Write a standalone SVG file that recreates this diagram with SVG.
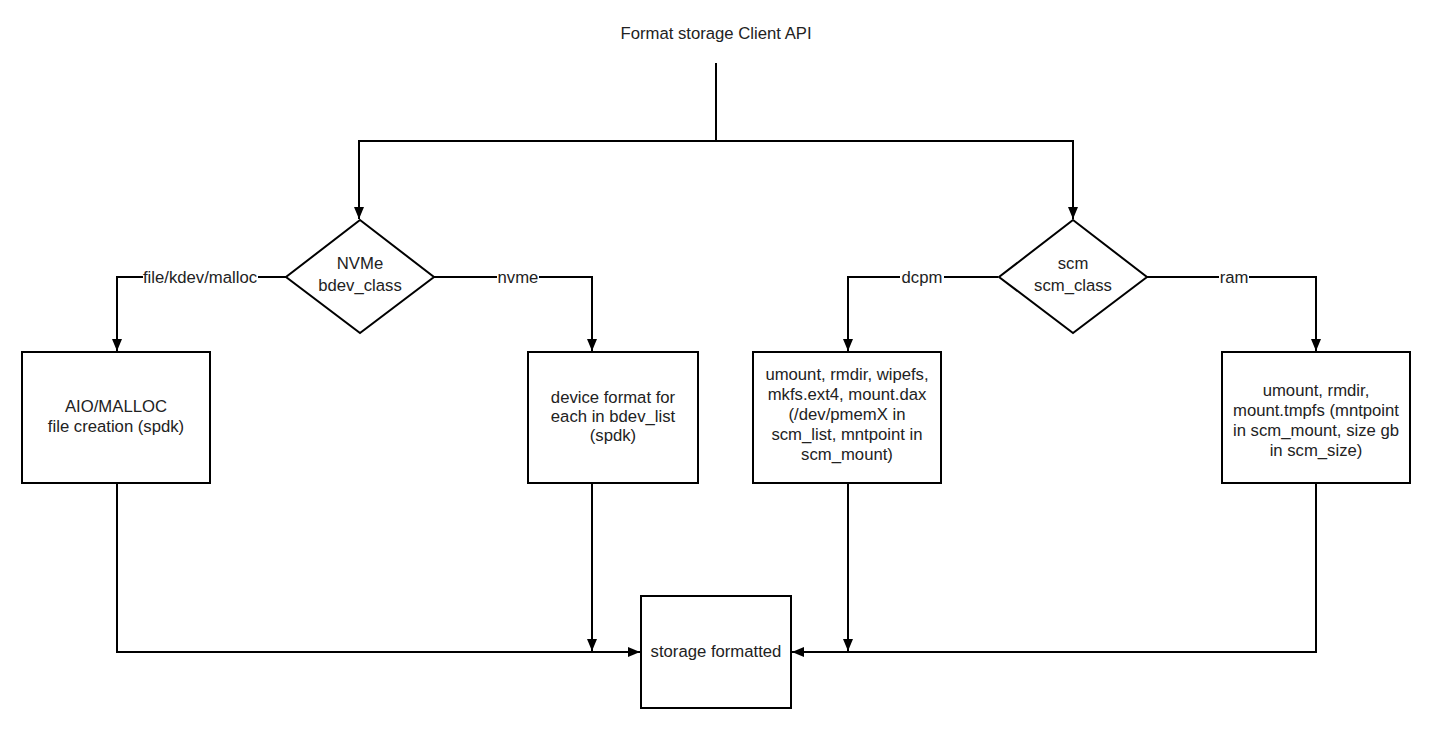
<svg xmlns="http://www.w3.org/2000/svg" width="1429" height="734" viewBox="0 0 1429 734">
<defs>
<marker id="arr" viewBox="0 0 12 10" refX="12" refY="5" markerWidth="12" markerHeight="10" markerUnits="userSpaceOnUse" orient="auto">
<path d="M0,0 L12,5 L0,10 Z" fill="#000"/>
</marker>
<style>
text{font-family:"Liberation Sans",Arial,sans-serif;font-size:16.7px;fill:#222;text-anchor:middle}
.shape{fill:#fff;stroke:#000;stroke-width:2}
.conn{fill:none;stroke:#000;stroke-width:2}
.lbl{fill:#fff}
</style>
</defs>
<rect width="1429" height="734" fill="#fff"/>
<g id="title"><text x="716" y="39">Format storage Client API</text></g>
<g id="connectors">
<path class="conn" d="M716,63 V141"/>
<path class="conn" d="M716,141 H359 V219" marker-end="url(#arr)"/>
<path class="conn" d="M716,141 H1073 V219" marker-end="url(#arr)"/>
<path class="conn" d="M286,277 H117 V351" marker-end="url(#arr)"/>
<path class="conn" d="M434,277 H592 V351" marker-end="url(#arr)"/>
<path class="conn" d="M998,277 H848 V351" marker-end="url(#arr)"/>
<path class="conn" d="M1147,277 H1316 V351" marker-end="url(#arr)"/>
<path class="conn" d="M117,483 V652 H640" marker-end="url(#arr)"/>
<path class="conn" d="M592,483 V651" marker-end="url(#arr)"/>
<path class="conn" d="M848,483 V651" marker-end="url(#arr)"/>
<path class="conn" d="M1316,483 V652 H792" marker-end="url(#arr)"/>
<rect class="lbl" x="143" y="267" width="115" height="20"/>
<text x="200" y="283">file/kdev/malloc</text>
<rect class="lbl" x="497" y="267" width="42" height="20"/>
<text x="518" y="283">nvme</text>
<rect class="lbl" x="900" y="267" width="44" height="20"/>
<text x="922" y="283">dcpm</text>
<rect class="lbl" x="1219" y="267" width="30" height="20"/>
<text x="1234" y="283">ram</text>
</g>
<g id="nvme-decision">
<polygon class="shape" points="360,220 434,277 360,333 286,277"/>
<text x="360" y="269">NVMe</text>
<text x="360" y="291">bdev_class</text>
</g>
<g id="scm-decision">
<polygon class="shape" points="1073,220 1147,277 1073,333 999,277"/>
<text x="1073" y="269">scm</text>
<text x="1073" y="291">scm_class</text>
</g>
<g id="aio-box">
<rect class="shape" x="22" y="352" width="188" height="131"/>
<text x="116" y="412">AIO/MALLOC</text>
<text x="116" y="432">file creation (spdk)</text>
</g>
<g id="device-box">
<rect class="shape" x="528" y="352" width="170" height="131"/>
<text x="613" y="403">device format for</text>
<text x="613" y="422">each in bdev_list</text>
<text x="613" y="441">(spdk)</text>
</g>
<g id="dcpm-box">
<rect class="shape" x="753" y="352" width="188" height="131"/>
<text x="847" y="380">umount, rmdir, wipefs,</text>
<text x="847" y="400">mkfs.ext4, mount.dax</text>
<text x="847" y="420">(/dev/pmemX in</text>
<text x="847" y="440">scm_list, mntpoint in</text>
<text x="847" y="460">scm_mount)</text>
</g>
<g id="ram-box">
<rect class="shape" x="1222" y="352" width="188" height="131"/>
<text x="1316" y="396">umount, rmdir,</text>
<text x="1316" y="416">mount.tmpfs (mntpoint</text>
<text x="1316" y="436">in scm_mount, size gb</text>
<text x="1316" y="456">in scm_size)</text>
</g>
<g id="formatted-box">
<rect class="shape" x="641" y="596" width="150" height="112"/>
<text x="716" y="657">storage formatted</text>
</g>
</svg>
